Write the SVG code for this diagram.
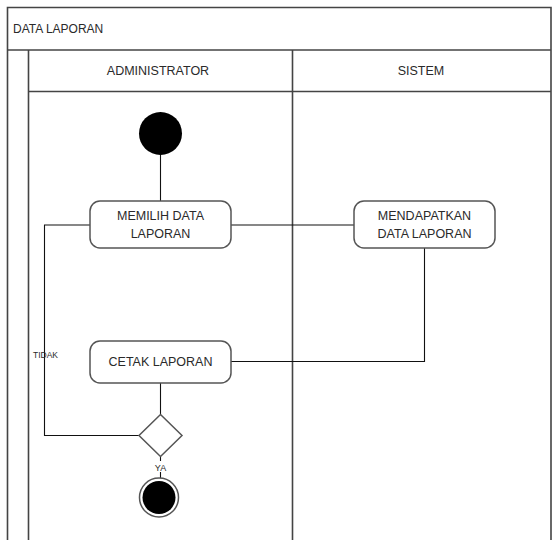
<svg xmlns="http://www.w3.org/2000/svg" width="552" height="540" viewBox="0 0 552 540">
  <style>
    .frame { fill: none; stroke: #444; stroke-width: 1.6; }
    .node { fill: #fff; stroke: #555; stroke-width: 1.5; }
    .conn { fill: none; stroke: #111; stroke-width: 1.1; }
    .t { font-family: "Liberation Sans", Arial, sans-serif; fill: #2a2a2a; }
    .lbl { font-size: 12.5px; text-anchor: middle; }
  </style>
  <rect x="0" y="0" width="552" height="540" fill="#fff"/>
  <g id="swimlane">
    <path class="frame" d="M7.5,541 V7.5 H551 V541"/>
    <line class="frame" x1="7.5" y1="50" x2="551" y2="50"/>
    <path class="frame" d="M28.5,541 V50"/>
    <line class="frame" x1="28.5" y1="91.5" x2="551" y2="91.5"/>
    <line class="frame" x1="292.5" y1="50" x2="292.5" y2="541"/>
    <text class="t" x="13" y="33" font-size="12">DATA LAPORAN</text>
    <text class="t lbl" x="158" y="74.5" font-size="12.5">ADMINISTRATOR</text>
    <text class="t lbl" x="421" y="74.5" font-size="12.5">SISTEM</text>
  </g>
  <g id="connectors">
    <line class="conn" x1="160.5" y1="154" x2="160.5" y2="201"/>
    <line class="conn" x1="231" y1="225" x2="354" y2="225"/>
    <path class="conn" d="M424.5,248 V361.5 H231"/>
    <line class="conn" x1="160.5" y1="383" x2="160.5" y2="414.5"/>
    <path class="conn" d="M139,435.5 H44.5 V225 H90"/>
    <line class="conn" x1="160.5" y1="456.5" x2="160.5" y2="461"/>
    <line class="conn" x1="160.5" y1="472" x2="160.5" y2="478"/>
    <text class="t" x="33" y="357.5" font-size="8.5">TIDAK</text>
    <text class="t" x="160.5" y="470.5" font-size="9" text-anchor="middle">YA</text>
  </g>
  <g id="start">
    <circle cx="160.5" cy="133.5" r="21.5" fill="#000"/>
  </g>
  <g id="memilih">
    <rect class="node" x="90" y="201" width="141" height="47" rx="10"/>
    <text class="t lbl" x="160.5" y="220">MEMILIH DATA</text>
    <text class="t lbl" x="160.5" y="238">LAPORAN</text>
  </g>
  <g id="mendapatkan">
    <rect class="node" x="354" y="201" width="141" height="47" rx="10"/>
    <text class="t lbl" x="424.5" y="220">MENDAPATKAN</text>
    <text class="t lbl" x="424.5" y="238">DATA LAPORAN</text>
  </g>
  <g id="cetak">
    <rect class="node" x="90" y="341" width="141" height="42" rx="10"/>
    <text class="t lbl" x="160.5" y="366">CETAK LAPORAN</text>
  </g>
  <g id="decision">
    <polygon class="node" points="160.5,414.5 182,435.5 160.5,456.5 139,435.5"/>
  </g>
  <g id="end">
    <circle cx="159" cy="497.5" r="19.5" fill="#fff" stroke="#555" stroke-width="1.5"/>
    <circle cx="159" cy="497.5" r="16.5" fill="#000"/>
  </g>
</svg>
